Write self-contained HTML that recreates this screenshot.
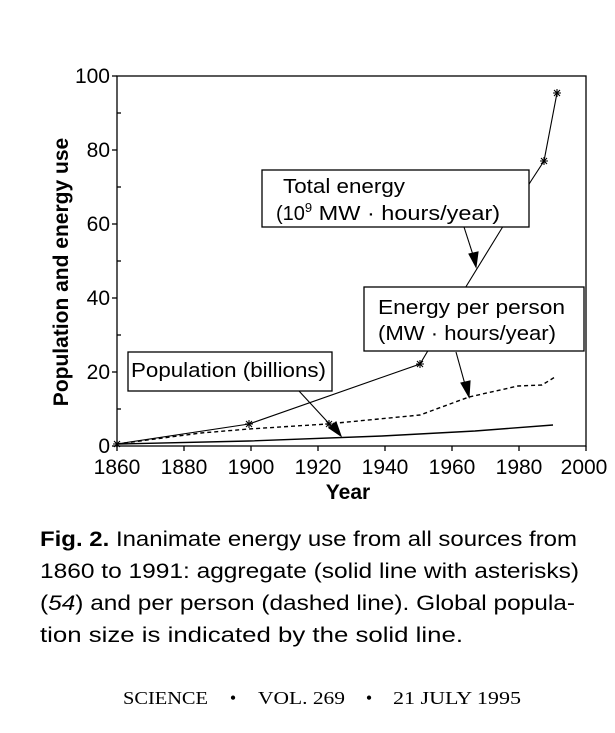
<!DOCTYPE html>
<html><head><meta charset="utf-8"><style>
html,body{margin:0;padding:0;background:#fff;}
svg{display:block;}
</style></head><body>
<svg width="615" height="733" viewBox="0 0 615 733" xmlns="http://www.w3.org/2000/svg" font-family="Liberation Sans, sans-serif">
<rect width="615" height="733" fill="#fff"/>
<rect x="117" y="76" width="469" height="370" fill="none" stroke="#000" stroke-width="1.3"/>
<g stroke="#000" stroke-width="1.3">
<line x1="112" y1="76" x2="117" y2="76"/><line x1="112" y1="150" x2="117" y2="150"/><line x1="112" y1="224" x2="117" y2="224"/><line x1="112" y1="298" x2="117" y2="298"/><line x1="112" y1="372" x2="117" y2="372"/><line x1="112" y1="446" x2="117" y2="446"/>
<line x1="117" y1="113" x2="121" y2="113"/><line x1="117" y1="187" x2="121" y2="187"/><line x1="117" y1="261" x2="121" y2="261"/><line x1="117" y1="335" x2="121" y2="335"/><line x1="117" y1="409" x2="121" y2="409"/>
<line x1="117" y1="446" x2="117" y2="451"/><line x1="184" y1="446" x2="184" y2="451"/><line x1="251" y1="446" x2="251" y2="451"/><line x1="318" y1="446" x2="318" y2="451"/><line x1="385" y1="446" x2="385" y2="451"/><line x1="452" y1="446" x2="452" y2="451"/><line x1="519" y1="446" x2="519" y2="451"/><line x1="586" y1="446" x2="586" y2="451"/>
</g>
<g font-size="21" text-anchor="end">
<text x="110" y="83">100</text><text x="110" y="157">80</text><text x="110" y="231">60</text><text x="110" y="305">40</text><text x="110" y="379">20</text><text x="110" y="453">0</text>
</g>
<g font-size="21" text-anchor="middle">
<text x="117" y="474">1860</text><text x="184" y="474">1880</text><text x="251" y="474">1900</text><text x="318" y="474">1920</text><text x="385" y="474">1940</text><text x="452" y="474">1960</text><text x="519" y="474">1980</text><text x="584" y="474">2000</text>
</g>
<text x="348" y="499" font-size="21" font-weight="bold" text-anchor="middle">Year</text>
<text transform="translate(68,272) rotate(-90)" font-size="21" font-weight="bold" text-anchor="middle">Population and energy use</text>

<polyline points="117,444 249,441 382,436 475,431 553,425" fill="none" stroke="#000" stroke-width="1.4"/>
<polyline points="117,444 201,433 249,429 327,424 420,415 469,397 518,386 542,385 555,377" fill="none" stroke="#000" stroke-width="1.4" stroke-dasharray="4,3"/>
<polyline points="117,444 249,424 420,364 467,285 502,228 531,181 544,161 557,93" fill="none" stroke="#000" stroke-width="1.1"/>
<g stroke="#000" stroke-width="1.1">
<path d="M113,444h8M117,440v8M114,441l6,6M120,441l-6,6"/>
<path d="M245,424h8M249,420v8M246,421l6,6M252,421l-6,6"/>
<path d="M416,364h8M420,360v8M417,361l6,6M423,361l-6,6"/>
<path d="M540,161h8M544,157v8M541,158l6,6M547,158l-6,6"/>
<path d="M553,93h8M557,89v8M554,90l6,6M560,90l-6,6"/>
<path d="M325,424h8M329,420v8M326,421l6,6M332,421l-6,6"/>
</g>

<rect x="262" y="170" width="267" height="57" fill="#fff" stroke="#000" stroke-width="1.3"/>
<text x="283" y="193" font-size="20" textLength="122" lengthAdjust="spacingAndGlyphs">Total energy</text>
<text x="276" y="220" font-size="20">(10<tspan font-size="13" dy="-8">9</tspan><tspan dy="8" textLength="188" lengthAdjust="spacingAndGlyphs"> MW · hours/year)</tspan></text>
<rect x="364" y="287" width="220" height="64" fill="#fff" stroke="#000" stroke-width="1.3"/>
<text x="378" y="314" font-size="20" textLength="187" lengthAdjust="spacingAndGlyphs">Energy per person</text>
<text x="378" y="340" font-size="20" textLength="178" lengthAdjust="spacingAndGlyphs">(MW · hours/year)</text>
<rect x="128" y="352" width="204" height="39" fill="#fff" stroke="#000" stroke-width="1.3"/>
<text x="131" y="377" font-size="20" textLength="195" lengthAdjust="spacingAndGlyphs">Population (billions)</text>

<g stroke="#000" stroke-width="1.1" fill="#000">
<line x1="464" y1="227" x2="474" y2="258"/><path d="M476,267 L469,254 L478,252 Z"/>
<line x1="456" y1="352" x2="466" y2="388"/><path d="M469,397 L461,383 L470,381 Z"/>
<line x1="299" y1="391" x2="335" y2="430"/><path d="M341,436 L329,428 L336,422 Z"/>
</g>

<g font-size="21">
<text x="40" y="546" textLength="537" lengthAdjust="spacingAndGlyphs"><tspan font-weight="bold">Fig. 2.</tspan> Inanimate energy use from all sources from</text>
<text x="40" y="578" textLength="539" lengthAdjust="spacingAndGlyphs">1860 to 1991: aggregate (solid line with asterisks)</text>
<text x="40" y="610" textLength="535" lengthAdjust="spacingAndGlyphs">(<tspan font-style="italic">54</tspan>) and per person (dashed line). Global popula-</text>
<text x="40" y="642" textLength="423" lengthAdjust="spacingAndGlyphs">tion size is indicated by the solid line.</text>
</g>
<g font-family="Liberation Serif, serif" font-size="18">
<text x="123" y="704" textLength="85" lengthAdjust="spacingAndGlyphs">SCIENCE</text>
<text x="233" y="704" text-anchor="middle">•</text>
<text x="258" y="704" textLength="87" lengthAdjust="spacingAndGlyphs">VOL. 269</text>
<text x="369" y="704" text-anchor="middle">•</text>
<text x="393" y="704" textLength="128" lengthAdjust="spacingAndGlyphs">21 JULY 1995</text>
</g>
</svg>
</body></html>
